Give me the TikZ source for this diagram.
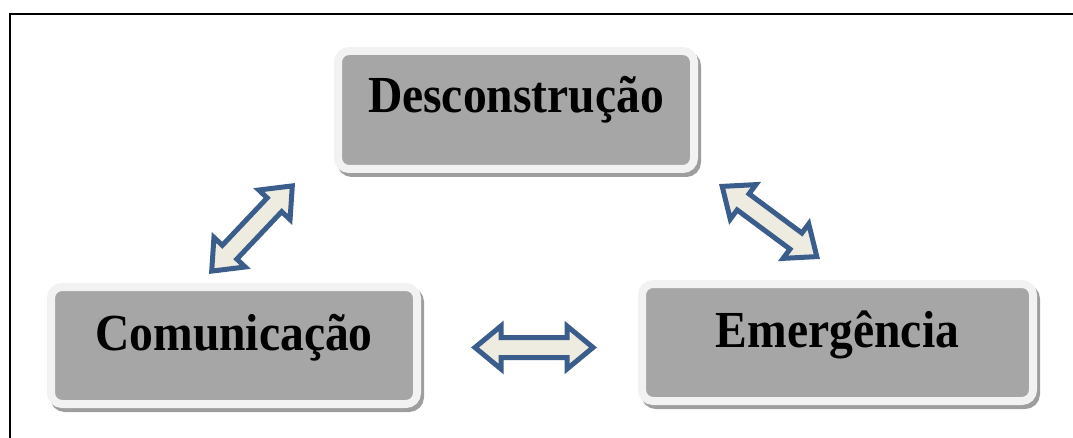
\documentclass[tikz,border=0pt]{standalone}
\usepackage{fontspec}
\setmainfont{Liberation Serif}
\usepackage{graphicx}
\usetikzlibrary{calc,shadows}
\definecolor{boxfill}{HTML}{A6A6A6}
\definecolor{boxrim}{HTML}{F2F2F2}
\definecolor{arrowline}{HTML}{3A5D8B}
\definecolor{arrowfill}{HTML}{EEECE1}
\newcommand{\boxtext}[1]{\scalebox{0.915}[1]{\fontsize{52}{58}\selectfont\bfseries #1}}
\tikzset{
  stagebox/.style={rectangle, rounded corners=11pt, fill=boxfill, draw=boxrim,
    line width=8pt, inner sep=0pt, text height=40pt,
    drop shadow={shadow xshift=3pt, shadow yshift=-4pt, fill=black!38,
      draw=black!38, line width=8pt, opacity=1}},
  blockarrow/.style={draw=arrowline, fill=arrowfill, line width=5pt, line join=miter},
  frameline/.style={line width=2pt, draw=black}
}
\begin{document}
\begin{tikzpicture}[x=1pt, y=-1pt]
\useasboundingbox (0,0) rectangle (1073,438);
\draw[frameline] (10,438) -- (10,14) -- (1073,14);

\node[stagebox, minimum width=356pt, minimum height=118pt, text depth=34pt]
  (des) at (516,110) {\boxtext{Desconstrução}};
\node[stagebox, minimum width=366pt, minimum height=117pt, text depth=31pt]
  (com) at (234,345.5) {\boxtext{Comunicação}};
\node[stagebox, minimum width=391pt, minimum height=117pt, text depth=31pt]
  (eme) at (837.5,342.5) {\boxtext{Emergência}};

% arrow tips
\coordinate (l1) at (211.7,271.1);
\coordinate (l2) at (292.3,185.9);
\coordinate (r1) at (722.2,186.4);
\coordinate (r2) at (816.8,256.6);
\coordinate (h1) at (475,347.5);
\coordinate (h2) at (593,347.5);

\foreach \A/\B in {l1/l2, r1/r2, h1/h2}{
  \coordinate (P1) at ($(\A)!26pt!(\B)$);
  \coordinate (P2) at ($(\B)!26pt!(\A)$);
  \draw[blockarrow] (\A)
    -- ($(P1)!21.5pt!90:(\B)$) -- ($(P1)!10pt!90:(\B)$)
    -- ($(P2)!10pt!-90:(\A)$) -- ($(P2)!21.5pt!-90:(\A)$)
    -- (\B)
    -- ($(P2)!21.5pt!90:(\A)$) -- ($(P2)!10pt!90:(\A)$)
    -- ($(P1)!10pt!-90:(\B)$) -- ($(P1)!21.5pt!-90:(\B)$)
    -- cycle;
}
\end{tikzpicture}
\end{document}
